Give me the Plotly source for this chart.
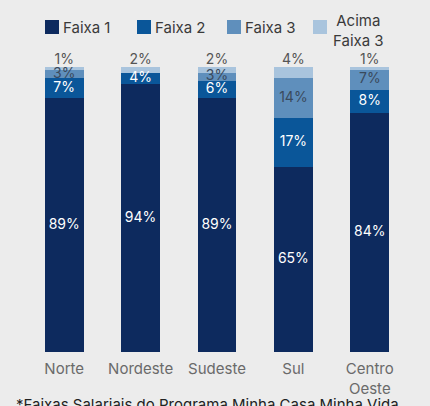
import numpy as np
import plotly.graph_objs as go

regioes = ['Norte', 'Nordeste', 'Sudeste', 'Sul', 'Centro<br>Oeste']
faixa_1 = [89, 94, 89, 65, 84]
faixa_2 = [7, 4, 6, 17, 8]
faixa_3 = [3, 0, 3, 14, 7]
acima_faixa_3 = [1, 2, 2, 4, 1]

cores = ['#0d2a5e', '#0a5699', '#5f8fbc', '#a9c4dd']
FONT = 'Inter, Roboto, sans-serif'
W, H = 430, 406
M = {'l': 26, 'r': 22, 't': 67, 'b': 54}

series = [
    ('Faixa 1', faixa_1, 'white'),
    ('Faixa 2', faixa_2, 'white'),
    ('Faixa 3', faixa_3, '#3a4a5c'),
    ('Acima<br>Faixa 3', acima_faixa_3, '#555555'),
]


def px(x, y):
    """pixel -> paper coords"""
    return ((x - M['l']) / (W - M['l'] - M['r']),
            (H - M['b'] - y) / (H - M['t'] - M['b']))


data = []
base = np.zeros(len(regioes))
for i, ((nome, vals, txtcol), cor) in enumerate(zip(series, cores)):
    vals = np.array(vals, dtype=float)
    data.append(go.Bar(
        x=regioes, y=vals, name=nome, showlegend=False,
        marker={'color': cor, 'line': {'width': 0}},
        textposition='none', hoverinfo='skip'
    ))
    ultimo = i == len(series) - 1
    # labels in the middle of each segment, above the bar for the last one
    mask = vals > 0
    data.append(go.Scatter(
        x=[r for r, m in zip(regioes, mask) if m],
        y=(base + vals if ultimo else base + vals / 2)[mask],
        text=['{}%'.format(int(v)) for v in vals[mask]],
        mode='text', textposition='top center' if ultimo else 'middle center',
        textfont={'color': txtcol, 'size': 14, 'family': FONT},
        showlegend=False, hoverinfo='skip', cliponaxis=False
    ))
    base = base + vals

# hand-made legend on top
shapes, annotations = [], []
for (nome, _, _), cor, x0 in zip(series, cores, [45, 137, 227, 313]):
    xa, ya = px(x0, 34)
    xb, yb = px(x0 + 14, 20)
    shapes.append({'type': 'rect', 'xref': 'paper', 'yref': 'paper',
                   'x0': xa, 'x1': xb, 'y0': ya, 'y1': yb,
                   'fillcolor': cor, 'line': {'width': 0}})
    if '<br>' in nome:
        tx, ty = px(358, 30)
        annotations.append({'text': nome, 'x': tx, 'y': ty, 'xanchor': 'center',
                            'yanchor': 'middle', 'align': 'center'})
    else:
        tx, ty = px(x0 + 16, 27)
        annotations.append({'text': nome, 'x': tx, 'y': ty, 'xanchor': 'left',
                            'yanchor': 'middle'})
for a in annotations:
    a.update(xref='paper', yref='paper', showarrow=False,
             font={'size': 15, 'color': '#3a3a3a'})

fx, fy = px(14, 404)
annotations.append({'text': '*Faixas Salariais do Programa Minha Casa Minha Vida',
                    'xref': 'paper', 'yref': 'paper', 'x': fx, 'y': fy,
                    'xanchor': 'left', 'yanchor': 'middle', 'showarrow': False,
                    'font': {'size': 15, 'color': '#222222'}})

layout = go.Layout(
    barmode='stack', bargap=0.49,
    width=W, height=H, margin=M,
    paper_bgcolor='#ececec', plot_bgcolor='#ececec',
    font={'family': FONT, 'size': 13, 'color': '#666666'},
    xaxis={'showgrid': False, 'showline': False, 'ticks': 'outside', 'ticklen': 3,
           'tickcolor': 'rgba(0,0,0,0)', 'automargin': False,
           'tickfont': {'size': 15, 'color': '#6a6a6a'}},
    yaxis={'visible': False, 'range': [0, 100]},
    shapes=shapes, annotations=annotations,
)

fig = go.Figure(data=data, layout=layout)
fig.write_html('out.html', config={'displayModeBar': False},
               post_script="document.body.style.margin='0';")
